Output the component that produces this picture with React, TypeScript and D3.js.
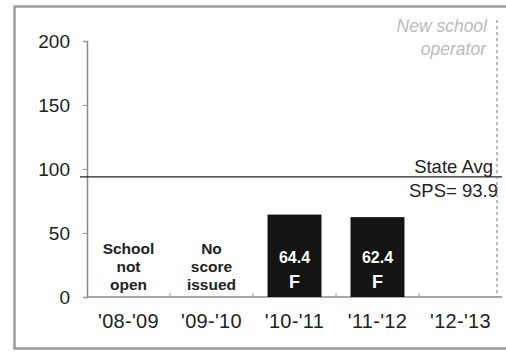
import { useEffect, useRef } from 'react';
import * as d3 from 'd3';

const years = ["'08-'09", "'09-'10", "'10-'11", "'11-'12", "'12-'13"];
const scores: (number | null)[] = [null, null, 64.4, 62.4, null];
const grades = ['', '', 'F', 'F', ''];
const notes: string[][] = [['School', 'not', 'open'], ['No', 'score', 'issued'], [], [], []];
const yTicks = [0, 50, 100, 150, 200];
const stateAvg = 93.9;

const App = () => {
  const ref = useRef<SVGSVGElement>(null);

  const width = 506;
  const height = 352;
  const margin = { top: 41, right: 4, bottom: 55, left: 87 };

  useEffect(() => {
    const svg = d3.select(ref.current);
    svg.selectAll('*').remove();
    const font = 'Liberation Sans, Arial, sans-serif';

    // frame
    svg
      .append('rect')
      .attr('x', 14.5)
      .attr('y', 6.5)
      .attr('width', 500)
      .attr('height', 342)
      .attr('fill', 'white')
      .attr('stroke', '#9a9a9a')
      .attr('stroke-width', 2.5);

    const x = d3
      .scaleBand()
      .domain(years)
      .range([margin.left, width - margin.right])
      .paddingInner(0.35)
      .paddingOuter(0.175);

    const y = d3
      .scaleLinear()
      .domain([0, 200])
      .range([height - margin.bottom, margin.top]);

    // y axis
    const yAxis = d3.axisLeft(y).tickValues(yTicks).tickSize(4).tickPadding(13);
    const gy = svg
      .append('g')
      .attr('transform', `translate(${margin.left},0)`)
      .call(yAxis);
    gy.select('.domain').attr('stroke', '#8a8a8a').attr('stroke-width', 1.5);
    gy.selectAll('line').attr('stroke', '#9a9a9a');
    gy.selectAll('text')
      .style('font', `19px ${font}`)
      .attr('fill', '#222');

    // x axis
    const gx = svg
      .append('g')
      .attr('transform', `translate(0,${y(0)})`);
    gx.append('line')
      .attr('x1', margin.left)
      .attr('x2', width - margin.right)
      .attr('stroke', '#8a8a8a')
      .attr('stroke-width', 1.5);
    const step = x.step();
    gx.selectAll('.tk')
      .data(years.slice(1))
      .enter()
      .append('line')
      .attr('x1', (d) => x(d)! - (step - x.bandwidth()) / 2)
      .attr('x2', (d) => x(d)! - (step - x.bandwidth()) / 2)
      .attr('y1', 0)
      .attr('y2', -4)
      .attr('stroke', '#9a9a9a');
    gx.selectAll('.lbl')
      .data(years)
      .enter()
      .append('text')
      .attr('x', (d) => x(d)! + x.bandwidth() / 2)
      .attr('y', 31)
      .attr('text-anchor', 'middle')
      .style('font', `20px ${font}`)
      .style('letter-spacing', '0.3px')
      .attr('fill', '#222')
      .text((d) => d);

    // bars
    const data = years.map((yr, i) => ({ yr, v: scores[i], g: grades[i], note: notes[i] }));
    svg
      .append('g')
      .selectAll('rect')
      .data(data.filter((d) => d.v !== null))
      .enter()
      .append('rect')
      .attr('x', (d) => x(d.yr)!)
      .attr('y', (d) => y(d.v as number))
      .attr('width', x.bandwidth())
      .attr('height', (d) => y(0) - y(d.v as number))
      .attr('fill', '#141414');

    const inner = svg.append('g');
    data
      .filter((d) => d.v !== null)
      .forEach((d) => {
        const cx = x(d.yr)! + x.bandwidth() / 2;
        inner
          .append('text')
          .attr('x', cx)
          .attr('y', y(0) - 34)
          .attr('text-anchor', 'middle')
          .style('font', `bold 16px ${font}`)
          .attr('fill', '#fff')
          .text((d.v as number).toFixed(1));
        inner
          .append('text')
          .attr('x', cx)
          .attr('y', y(0) - 9)
          .attr('text-anchor', 'middle')
          .style('font', `bold 18px ${font}`)
          .attr('fill', '#fff')
          .text(d.g);
      });

    data.forEach((d) => {
      const cx = x(d.yr)! + x.bandwidth() / 2;
      d.note.forEach((line, j) => {
        inner
          .append('text')
          .attr('x', cx)
          .attr('y', y(0) - 43 + j * 18)
          .attr('text-anchor', 'middle')
          .style('font', `bold 15.5px ${font}`)
          .attr('fill', '#222')
          .text(line);
      });
    });

    // state average line
    svg
      .append('line')
      .attr('x1', 80)
      .attr('x2', 502)
      .attr('y1', y(stateAvg))
      .attr('y2', y(stateAvg))
      .attr('stroke', '#222')
      .attr('stroke-width', 1.3);
    svg
      .append('text')
      .attr('x', 493)
      .attr('y', y(stateAvg) - 4)
      .attr('text-anchor', 'end')
      .style('font', `18.5px ${font}`)
      .attr('fill', '#222')
      .text('State Avg');
    svg
      .append('text')
      .attr('x', 498)
      .attr('y', y(stateAvg) + 20)
      .attr('text-anchor', 'end')
      .style('font', `18.5px ${font}`)
      .attr('fill', '#222')
      .text('SPS= 93.9');

    // new operator marker
    const xNew = 497;
    svg
      .append('line')
      .attr('x1', xNew)
      .attr('x2', xNew)
      .attr('y1', 20)
      .attr('y2', y(0))
      .attr('stroke', '#777')
      .attr('stroke-dasharray', '3,3');
    svg
      .append('text')
      .attr('x', 487)
      .attr('y', 32)
      .attr('text-anchor', 'end')
      .style('font', `italic 17.5px ${font}`)
      .attr('fill', '#bbb')
      .text('New school');
    svg
      .append('text')
      .attr('x', 486)
      .attr('y', 55)
      .attr('text-anchor', 'end')
      .style('font', `italic 17.5px ${font}`)
      .attr('fill', '#bbb')
      .text('operator');
  }, []);

  return (
    <svg
      ref={ref}
      width={width}
      height={height}
      style={{ position: 'absolute', left: 0, top: 0, background: '#fff' }}
    />
  );
};

export default App;
